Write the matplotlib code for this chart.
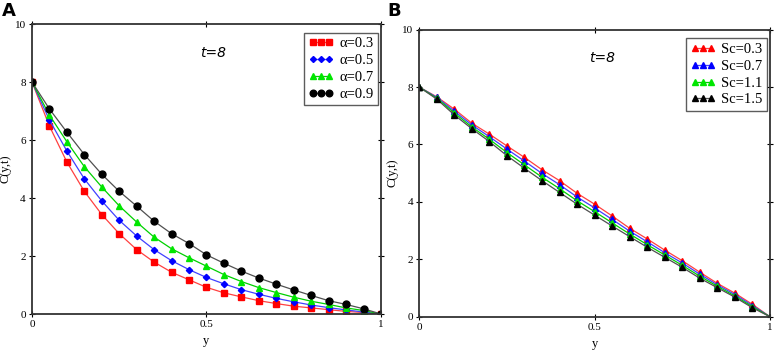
import matplotlib
matplotlib.use("Agg")
import matplotlib.pyplot as plt
import numpy as np

plt.rcParams['font.family'] = ['Liberation Serif', 'DejaVu Serif']
plt.rcParams['mathtext.fontset'] = 'stix'

y = np.round(np.arange(0, 1.0001, 0.05), 2)

# panel A: effect of alpha
alpha_labels = ['\u03b1=0.3', '\u03b1=0.5', '\u03b1=0.7', '\u03b1=0.9']
c_a03 = [8, 6.48, 5.24, 4.23, 3.43, 2.77, 2.22, 1.79, 1.44, 1.18, 0.92,
         0.73, 0.59, 0.46, 0.36, 0.27, 0.21, 0.15, 0.09, 0.05, 0.0]
c_a05 = [8, 6.69, 5.62, 4.66, 3.90, 3.23, 2.69, 2.22, 1.84, 1.53, 1.26,
         1.04, 0.84, 0.68, 0.54, 0.42, 0.31, 0.22, 0.14, 0.07, 0.0]
c_a07 = [8, 6.86, 5.94, 5.08, 4.38, 3.73, 3.17, 2.65, 2.25, 1.94, 1.65,
         1.36, 1.12, 0.91, 0.74, 0.58, 0.44, 0.33, 0.21, 0.12, 0.0]
c_a09 = [8, 7.07, 6.27, 5.50, 4.82, 4.23, 3.72, 3.20, 2.77, 2.43, 2.04,
         1.75, 1.48, 1.24, 1.03, 0.83, 0.64, 0.46, 0.33, 0.18, 0.0]

# panel B: effect of Sc
sc_labels = ['Sc=0.3', 'Sc=0.7', 'Sc=1.1', 'Sc=1.5']
c_sc03 = [8, 7.66, 7.23, 6.74, 6.36, 5.95, 5.55, 5.12, 4.74, 4.30, 3.92,
          3.51, 3.08, 2.71, 2.32, 1.95, 1.55, 1.16, 0.82, 0.43, 0.0]
c_sc07 = [8, 7.64, 7.16, 6.68, 6.27, 5.84, 5.42, 4.99, 4.60, 4.17, 3.79,
          3.39, 2.98, 2.61, 2.23, 1.87, 1.48, 1.11, 0.77, 0.39, 0.0]
c_sc11 = [8, 7.61, 7.10, 6.61, 6.18, 5.72, 5.29, 4.86, 4.46, 4.04, 3.66,
          3.27, 2.88, 2.51, 2.15, 1.79, 1.41, 1.06, 0.72, 0.35, 0.0]
c_sc15 = [8, 7.58, 7.03, 6.55, 6.10, 5.61, 5.17, 4.74, 4.33, 3.92, 3.54,
          3.16, 2.79, 2.42, 2.07, 1.72, 1.34, 1.01, 0.68, 0.31, 0.0]

colors = ['#ff0000', '#0000ff', '#00e600', '#000000']
line_colors = ['#ff4040', '#4040ff', '#00d000', '#505050']


def style_axes(ax):
    ax.set_xlim(0, 1)
    ax.set_ylim(0, 10)
    ax.set_xticks([0, 0.5, 1])
    ax.set_xticklabels(['0', '0.5', '1'])
    ax.set_yticks([0, 2, 4, 6, 8, 10])
    ax.tick_params(direction='inout', length=5, width=0.8, labelsize=8,
                   top=True, right=True, pad=2)
    for s in ax.spines.values():
        s.set_linewidth(1.3)
        s.set_color('#333333')
    ax.set_xlabel('y', fontsize=9, labelpad=4)
    ax.set_ylabel('C(y,t)', fontsize=9)
    ax.yaxis.set_label_coords(-0.058, 0.5)
    ax.text(0.52, 0.9, 't=8', transform=ax.transAxes, fontsize=10,
            style='italic', family='DejaVu Sans', ha='center', va='center')


fig = plt.figure(figsize=(7.75, 3.51), dpi=100)
ax1 = fig.add_axes([0.0413, 0.1054, 0.4503, 0.826])
ax2 = fig.add_axes([0.541, 0.0977, 0.4525, 0.8177])

series_a = [c_a03, c_a05, c_a07, c_a09]
markers_a = ['s', 'D', '^', 'o']
sizes_a = [4.5, 3.2, 5, 5]
for vals, lab, m, ms, c, lc in zip(series_a, alpha_labels, markers_a,
                                   sizes_a, colors, line_colors):
    ax1.plot(y, vals, color=lc, lw=0.9)
    ax1.plot(y, vals, linestyle='none', marker=m, ms=ms, color=c)
    ax1.plot([], [], color=lc, lw=0.9, marker=m, ms=ms * 0.95, mfc=c,
             mec=c, label=lab)

series_b = [c_sc03, c_sc07, c_sc11, c_sc15]
for vals, lab, c, lc in zip(series_b, sc_labels, colors, line_colors):
    ax2.plot(y, vals, color=lc, lw=0.9)
    ax2.plot(y, vals, linestyle='none', marker='^', ms=5, color=c)
    ax2.plot([], [], color=lc, lw=0.9, marker='^', ms=4.5, mfc=c, mec=c,
             label=lab)

for ax in (ax1, ax2):
    style_axes(ax)
    leg = ax.legend(loc='upper right', bbox_to_anchor=(1.0, 0.98),
                    fontsize=10.5, frameon=True, fancybox=False,
                    numpoints=3, handlelength=1.7,
                    handletextpad=0.4, borderpad=0.3, labelspacing=0.25,
                    borderaxespad=0.2)
    leg.get_frame().set_edgecolor('#333333')
    leg.get_frame().set_linewidth(1.0)

fig.text(0.002, 0.97, 'A', fontsize=13, fontweight='bold',
         family='DejaVu Sans', va='center')
fig.text(0.5, 0.97, 'B', fontsize=13, fontweight='bold',
         family='DejaVu Sans', va='center')

fig.savefig('out.png', dpi=100)
